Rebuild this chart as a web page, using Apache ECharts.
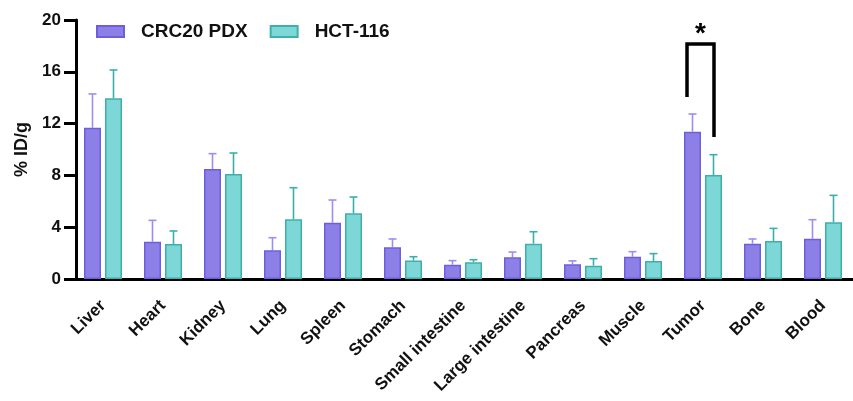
<!DOCTYPE html>
<html>
<head>
<meta charset="utf-8">
<script src="https://cdn.jsdelivr.net/npm/echarts@6/dist/echarts.min.js"></script>
<style>
html,body{margin:0;padding:0;background:#fff;}
#chart{width:853px;height:401px;}
</style>
</head>
<body>
<div id="chart"></div>
<script>
var categories = ['Liver','Heart','Kidney','Lung','Spleen','Stomach','Small intestine','Large intestine','Pancreas','Muscle','Tumor','Bone','Blood'];
var crcMean = [11.68, 2.88, 8.49, 2.22, 4.35, 2.45, 1.11, 1.67, 1.14, 1.72, 11.38, 2.73, 3.11];
var crcSD   = [2.61, 1.65, 1.19, 0.97, 1.75, 0.64, 0.31, 0.41, 0.26, 0.39, 1.36, 0.36, 1.47];
var hctMean = [13.95, 2.70, 8.11, 4.61, 5.07, 1.42, 1.29, 2.73, 1.03, 1.39, 8.03, 2.93, 4.38];
var hctSD   = [2.19, 1.01, 1.62, 2.44, 1.26, 0.30, 0.20, 0.92, 0.54, 0.57, 1.57, 0.98, 2.08];
var yTicks = [0, 4, 8, 12, 16, 20];
var sigCategory = 'Tumor';
var sigLeftBottom = 14.05;
var sigRightBottom = 10.97;
var sigTop = 18.15;
var sigLabel = '*';

var FONT = "'Liberation Sans', Arial, sans-serif";
var BAR_W = 17, GAP = 4;
var half = (BAR_W * 2 + GAP) / 2;

function errData(mean, sd) {
  return mean.map(function (m, i) { return [i, m, sd[i]]; });
}
function errRender(dx, color) {
  return function (params, api) {
    var c = api.coord([api.value(0), api.value(1)]);
    var t = api.coord([api.value(0), api.value(1) + api.value(2)]);
    var x = c[0] + dx;
    return {
      type: 'group',
      children: [
        {type: 'line', shape: {x1: x, y1: c[1], x2: x, y2: t[1]}, style: {stroke: color, lineWidth: 1.6}},
        {type: 'line', shape: {x1: x - 4, y1: t[1], x2: x + 4, y2: t[1]}, style: {stroke: color, lineWidth: 1.6}}
      ]
    };
  };
}

var chart = echarts.init(document.getElementById('chart'), null, {renderer: 'canvas'});
var sigIdx = categories.indexOf(sigCategory);

chart.setOption({
  animation: false,
  textStyle: {fontFamily: FONT},
  grid: {left: 73, top: 20, width: 780, height: 259, containLabel: false},
  legend: {
    left: 96, top: 22, padding: 0,
    icon: 'rect',
    itemWidth: 27, itemHeight: 11, itemGap: 22,
    textStyle: {fontFamily: FONT, fontWeight: 'bold', fontSize: 19, color: '#111', padding: [0, 0, 0, 12]},
    data: ['CRC20 PDX', 'HCT-116']
  },
  xAxis: {
    type: 'category',
    data: categories,
    axisLine: {lineStyle: {color: '#000', width: 3}},
    axisTick: {alignWithLabel: true, length: 12, lineStyle: {color: '#000', width: 3}},
    axisLabel: {rotate: 45, interval: 0, margin: 24, fontFamily: FONT, fontWeight: 'bold', fontSize: 17, color: '#111'}
  },
  yAxis: {
    type: 'value',
    min: 0, max: 20, interval: 4,
    offset: -3,
    name: '% ID/g',
    nameLocation: 'middle',
    nameGap: 44,
    nameTextStyle: {fontFamily: FONT, fontWeight: 'bold', fontSize: 18, color: '#111'},
    axisLine: {show: true, lineStyle: {color: '#000', width: 3}},
    axisTick: {show: true, length: 12, lineStyle: {color: '#000', width: 3}},
    axisLabel: {margin: 15, fontFamily: FONT, fontWeight: 'bold', fontSize: 17, color: '#111',
      formatter: function (v) { return yTicks.indexOf(v) >= 0 ? String(v) : ''; }},
    splitLine: {show: false}
  },
  series: [
    {name: 'CRC20 PDX', type: 'bar', data: crcMean, barWidth: BAR_W, barGap: (GAP / BAR_W * 100) + '%',
      itemStyle: {color: '#8C80E6', borderColor: '#6D5EDF', borderWidth: 1.5}},
    {name: 'HCT-116', type: 'bar', data: hctMean, barWidth: BAR_W,
      itemStyle: {color: '#7DD7D7', borderColor: '#3DB0AD', borderWidth: 1.5}},
    {type: 'custom', data: errData(crcMean, crcSD), encode: {x: 0, y: 1}, z: 1,
      renderItem: errRender(-half + BAR_W / 2, '#9C8EF2'), silent: true},
    {type: 'custom', data: errData(hctMean, hctSD), encode: {x: 0, y: 1}, z: 1,
      renderItem: errRender(half - BAR_W / 2, '#3AB0AC'), silent: true},
    {type: 'custom', data: [[sigIdx, sigLeftBottom, sigRightBottom, sigTop]], encode: {x: 0, y: 1}, z: 3, silent: true,
      renderItem: function (params, api) {
        var idx = api.value(0);
        var lb = api.coord([idx, api.value(1)]);
        var rb = api.coord([idx, api.value(2)]);
        var tp = api.coord([idx, api.value(3)]);
        var xl = lb[0] - 16, xr = rb[0] + 11;
        return {
          type: 'group',
          children: [
            {type: 'polyline', shape: {points: [[xl, lb[1]], [xl, tp[1]], [xr, tp[1]], [xr, rb[1]]]},
              style: {stroke: '#000', lineWidth: 3.5, fill: null, lineJoin: 'miter'}},
            {type: 'text', x: (xl + xr) / 2, y: tp[1] + 4,
              style: {text: sigLabel, fontFamily: FONT, fontWeight: 'bold', fontSize: 28, fill: '#000',
                textAlign: 'center', textVerticalAlign: 'bottom'}}
          ]
        };
      }}
  ]
});
</script>
</body>
</html>
